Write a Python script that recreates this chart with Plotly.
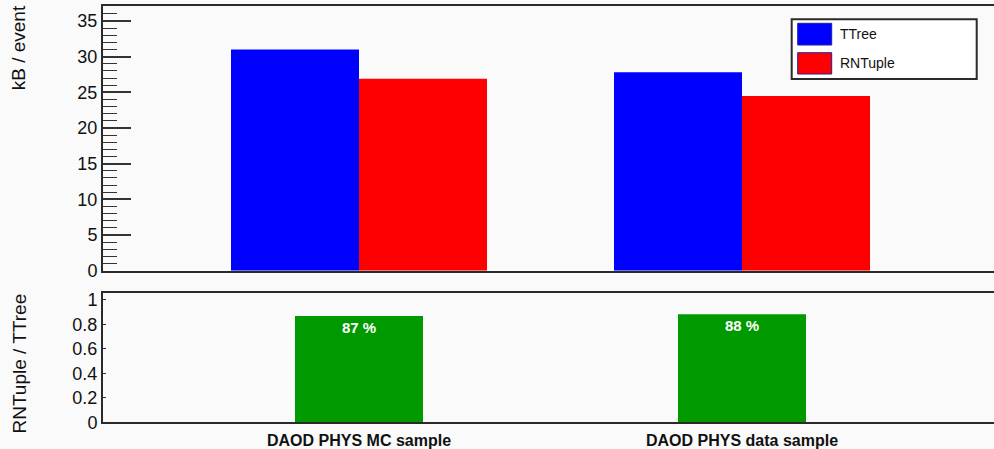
import plotly.graph_objects as go

# ---- data ----
categories = ["DAOD PHYS MC sample", "DAOD PHYS data sample"]
ttree_kb = [31.0, 27.8]
rntuple_kb = [26.9, 24.5]
ratio = [r / t for r, t in zip(rntuple_kb, ttree_kb)]
ratio_text = [f"{round(v * 100)} %" for v in ratio]
y_ticks_top = [0, 5, 10, 15, 20, 25, 30, 35]
y_ticks_bot = [0, 0.2, 0.4, 0.6, 0.8, 1]

W, H = 994, 449
BG = "#fafafa"
FONT = "Liberation Sans, Arial, Helvetica, sans-serif"
LINE = "#2a2a2a"


def px(x):
    return x / W


def py(y):
    return 1 - y / H


BW = 128 / 383  # bar width in category units

fig = go.Figure()
fig.add_trace(go.Bar(x=categories, y=ttree_kb, name="TTree", marker=dict(color="#0000ff", line=dict(width=0)),
                     width=BW, offset=-BW, xaxis="x", yaxis="y", showlegend=False))
fig.add_trace(go.Bar(x=categories, y=rntuple_kb, name="RNTuple", marker=dict(color="#ff0000", line=dict(width=0)),
                     width=BW, offset=0, xaxis="x", yaxis="y", showlegend=False))
fig.add_trace(go.Bar(x=categories, y=ratio, name="ratio", marker=dict(color="#009900", line=dict(width=0)),
                     width=BW, text=ratio_text, textposition="inside", insidetextanchor="end",
                     textangle=0, constraintext="none",
                     insidetextfont=dict(family=FONT, size=15, color="white", weight="bold"),
                     xaxis="x2", yaxis="y2", showlegend=False))

xr = [-256 / 383, -256 / 383 + 891 / 383]

fig.update_layout(
    width=W, height=H, autosize=False,
    margin=dict(l=0, r=0, t=0, b=0, pad=0),
    paper_bgcolor=BG, plot_bgcolor=BG,
    barmode="overlay",
    font=dict(family=FONT, color="#111"),
    xaxis=dict(domain=[px(103), 1], range=xr, anchor="y", showticklabels=False, ticks="",
               showline=True, linecolor=LINE, linewidth=2, mirror=True, showgrid=False, zeroline=False,
               matches="x2", automargin=False),
    yaxis=dict(domain=[py(270.7), py(6)], range=[0, 37.1], anchor="x",
               tickvals=y_ticks_top, ticks="inside", ticklen=28, tickwidth=1.5, tickcolor="#333",
               minor=dict(dtick=1, ticks="inside", ticklen=14, tickwidth=1, tickcolor="#333"),
               showline=True, linecolor=LINE, linewidth=2, showgrid=False, zeroline=False,
               automargin=False, tickfont=dict(family=FONT, size=18, color="#111")),
    xaxis2=dict(domain=[px(103), 1], range=xr, anchor="y2", ticks="",
                showline=True, linecolor=LINE, linewidth=2, mirror=True, showgrid=False, zeroline=False,
                ticklabelstandoff=3, automargin=False,
                tickfont=dict(family=FONT, size=16, color="#111", weight="bold")),
    yaxis2=dict(domain=[py(422.2), py(293)], range=[0, 1.056], anchor="x2",
                tickvals=y_ticks_bot, ticktext=["0", "0.2", "0.4", "0.6", "0.8", "1"],
                ticks="inside", ticklen=3, tickwidth=1, tickcolor="#333",
                showline=True, linecolor=LINE, linewidth=2, showgrid=False, zeroline=False,
                automargin=False, tickfont=dict(family=FONT, size=18, color="#111")),
)

# axis titles (ROOT style)
fig.add_annotation(text="kB / event", textangle=-90, x=px(18.5), y=py(47.8), xref="paper", yref="paper",
                   xanchor="center", yanchor="middle", showarrow=False,
                   font=dict(family=FONT, size=19, color="#111"))
fig.add_annotation(text="RNTuple / TTree", textangle=-90, x=px(18.5), y=py(364), xref="paper", yref="paper",
                   xanchor="center", yanchor="middle", showarrow=False,
                   font=dict(family=FONT, size=19, color="#111"))

# legend box (ROOT TLegend style)
fig.add_shape(type="rect", xref="paper", yref="paper", x0=px(791.7), x1=px(976.7), y0=py(79), y1=py(19.3),
              fillcolor="white", line=dict(color=LINE, width=2), layer="above")
legend_items = [("TTree", "#0000ff", 23.3, 45), ("RNTuple", "#ff0000", 52.7, 74)]
for name, col, y0, y1 in legend_items:
    fig.add_shape(type="rect", xref="paper", yref="paper", x0=px(797.7), x1=px(831.7), y0=py(y1), y1=py(y0),
                  fillcolor=col, line=dict(color="#2020a0", width=1), layer="above")
    fig.add_annotation(text=name, x=px(838.3), y=py((y0 + y1) / 2), xref="paper", yref="paper",
                       xanchor="left", yanchor="middle", showarrow=False,
                       font=dict(family=FONT, size=14, color="#111"))

fig.write_html("out.html", config={"displayModeBar": False},
               post_script="document.body.style.margin='0';document.body.style.overflow='hidden';"
                           "document.body.style.background='" + BG + "';")
